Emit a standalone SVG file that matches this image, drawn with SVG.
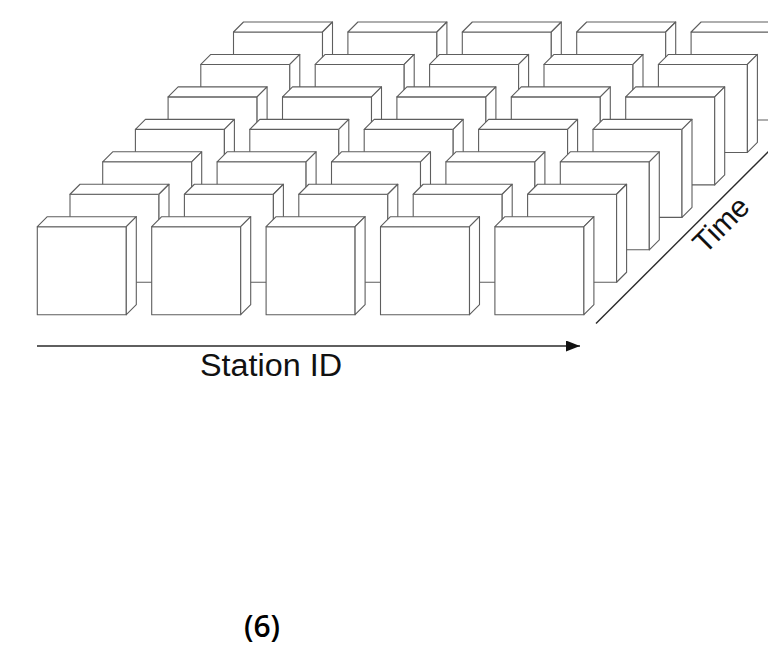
<svg xmlns="http://www.w3.org/2000/svg" xmlns:xlink="http://www.w3.org/1999/xlink" width="768" height="649" viewBox="0 0 768 649">
<style>
.cube-face{fill:#ffffff;stroke:#5e5e5e;stroke-width:1.1;stroke-linejoin:round}
.axis{stroke:#2a2a2a;stroke-width:1.4;fill:none}
.lbl{font-family:"Liberation Sans",Arial,Helvetica,sans-serif;fill:#111}
.num{font-family:"Open Sans","Noto Sans",sans-serif;font-weight:600;fill:#000}
</style>
<defs>
<g id="cube">
<rect class="cube-face" x="0" y="0" width="89" height="88"/>
<polygon class="cube-face" points="0,0 10,-10 99,-10 89,0"/>
<polygon class="cube-face" points="89,0 99,-10 99,78 89,88"/>
</g>
<marker id="arrow" markerWidth="14" markerHeight="11" refX="14" refY="5.5" orient="auto" markerUnits="userSpaceOnUse">
<polygon points="0,0 14,5.5 0,11" fill="#111"/>
</marker>
</defs>
<g id="row6">
<g id="box-6-1" transform="translate(233.5,32)"><use xlink:href="#cube"/></g>
<g id="box-6-2" transform="translate(347.9,32)"><use xlink:href="#cube"/></g>
<g id="box-6-3" transform="translate(462.3,32)"><use xlink:href="#cube"/></g>
<g id="box-6-4" transform="translate(576.7,32)"><use xlink:href="#cube"/></g>
<g id="box-6-5" transform="translate(691.1,32)"><use xlink:href="#cube"/></g>
</g>
<g id="row5">
<g id="box-5-1" transform="translate(200.8,64.45)"><use xlink:href="#cube"/></g>
<g id="box-5-2" transform="translate(315.2,64.45)"><use xlink:href="#cube"/></g>
<g id="box-5-3" transform="translate(429.6,64.45)"><use xlink:href="#cube"/></g>
<g id="box-5-4" transform="translate(544,64.45)"><use xlink:href="#cube"/></g>
<g id="box-5-5" transform="translate(658.4,64.45)"><use xlink:href="#cube"/></g>
</g>
<g id="row4">
<g id="box-4-1" transform="translate(168.1,96.9)"><use xlink:href="#cube"/></g>
<g id="box-4-2" transform="translate(282.5,96.9)"><use xlink:href="#cube"/></g>
<g id="box-4-3" transform="translate(396.9,96.9)"><use xlink:href="#cube"/></g>
<g id="box-4-4" transform="translate(511.3,96.9)"><use xlink:href="#cube"/></g>
<g id="box-4-5" transform="translate(625.7,96.9)"><use xlink:href="#cube"/></g>
</g>
<g id="row3">
<g id="box-3-1" transform="translate(135.4,129.35)"><use xlink:href="#cube"/></g>
<g id="box-3-2" transform="translate(249.8,129.35)"><use xlink:href="#cube"/></g>
<g id="box-3-3" transform="translate(364.2,129.35)"><use xlink:href="#cube"/></g>
<g id="box-3-4" transform="translate(478.6,129.35)"><use xlink:href="#cube"/></g>
<g id="box-3-5" transform="translate(593,129.35)"><use xlink:href="#cube"/></g>
</g>
<g id="row2">
<g id="box-2-1" transform="translate(102.7,161.8)"><use xlink:href="#cube"/></g>
<g id="box-2-2" transform="translate(217.1,161.8)"><use xlink:href="#cube"/></g>
<g id="box-2-3" transform="translate(331.5,161.8)"><use xlink:href="#cube"/></g>
<g id="box-2-4" transform="translate(445.9,161.8)"><use xlink:href="#cube"/></g>
<g id="box-2-5" transform="translate(560.3,161.8)"><use xlink:href="#cube"/></g>
</g>
<g id="row1">
<g id="box-1-1" transform="translate(70,194.25)"><use xlink:href="#cube"/></g>
<g id="box-1-2" transform="translate(184.4,194.25)"><use xlink:href="#cube"/></g>
<g id="box-1-3" transform="translate(298.8,194.25)"><use xlink:href="#cube"/></g>
<g id="box-1-4" transform="translate(413.2,194.25)"><use xlink:href="#cube"/></g>
<g id="box-1-5" transform="translate(527.6,194.25)"><use xlink:href="#cube"/></g>
</g>
<g id="row0">
<g id="box-0-1" transform="translate(37.3,226.7)"><use xlink:href="#cube"/></g>
<g id="box-0-2" transform="translate(151.7,226.7)"><use xlink:href="#cube"/></g>
<g id="box-0-3" transform="translate(266.1,226.7)"><use xlink:href="#cube"/></g>
<g id="box-0-4" transform="translate(380.5,226.7)"><use xlink:href="#cube"/></g>
<g id="box-0-5" transform="translate(494.9,226.7)"><use xlink:href="#cube"/></g>
</g>
<g id="connectors">
<line class="axis" x1="37" y1="346" x2="580" y2="346" marker-end="url(#arrow)"/>
<line class="axis" x1="596" y1="323.5" x2="770" y2="150"/>
</g>
<g id="labels">
<text class="lbl" x="200" y="376" font-size="31" textLength="142" lengthAdjust="spacingAndGlyphs">Station ID</text>
<text class="lbl" x="0" y="0" font-size="30" transform="translate(705,255) rotate(-45)">Time</text>
<text class="num" x="262" y="637" font-size="30" text-anchor="middle">(6)</text>
</g>
</svg>
